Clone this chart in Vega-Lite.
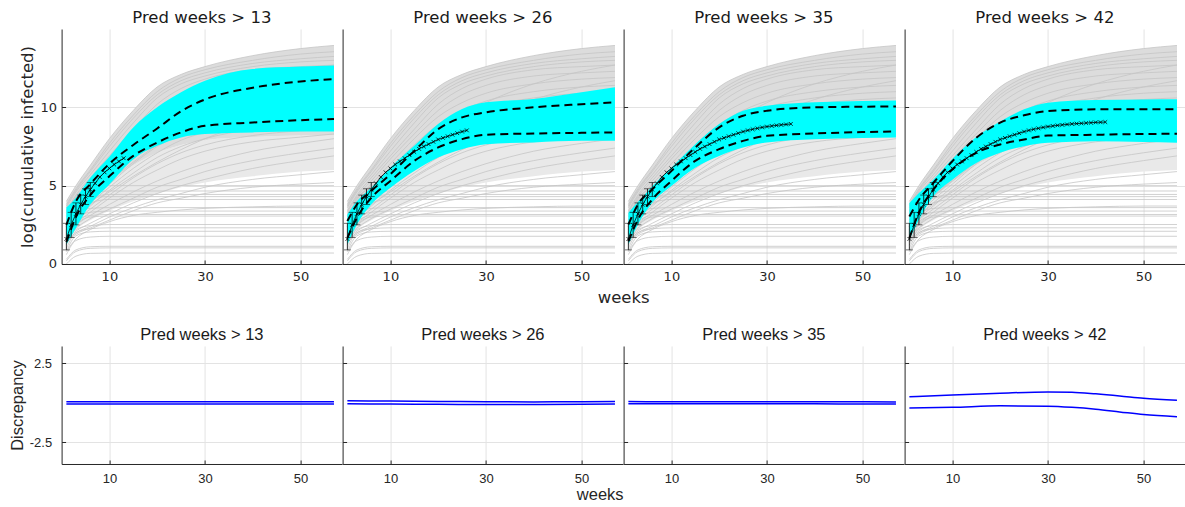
{
"$schema": "https://vega.github.io/schema/vega-lite/v6.json",
"padding": {"left": 9.6, "top": 10, "right": 0, "bottom": 0},
"background": "white",
"config": {
  "view": {"stroke": null},
  "axis": {"domainColor": "#262626", "tickColor": "#262626", "labelColor": "#262626", "titleColor": "#262626", "gridColor": "#e3e3e3", "titleFontWeight": "normal", "domainWidth": 1, "tickWidth": 1, "labelFlush": false, "labelOverlap": false}
},
"datasets": {
  "env": [
    {"w":1,"v":2.6,"v2":4.0},{"w":3,"v":3.4,"v2":5.0},{"w":6,"v":4.2,"v2":6.3},{"w":10,"v":5.2,"v2":8.0},{"w":15,"v":6.3,"v2":9.8},{"w":20,"v":7.1,"v2":11.3},{"w":25,"v":7.6,"v2":12.1},{"w":30,"v":7.9,"v2":12.6},{"w":40,"v":8.1,"v2":13.3},{"w":50,"v":8.2,"v2":13.75},{"w":57,"v":8.2,"v2":13.95}
  ],
  "mid": [
    {"w":1,"v":1.5,"v2":2.6},{"w":3,"v":2.2,"v2":3.4},{"w":6,"v":2.8,"v2":4.2},{"w":10,"v":3.4,"v2":5.2},{"w":15,"v":4.0,"v2":6.3},{"w":20,"v":4.5,"v2":7.1},{"w":25,"v":4.9,"v2":7.6},{"w":30,"v":5.2,"v2":7.9},{"w":40,"v":5.6,"v2":8.1},{"w":50,"v":5.9,"v2":8.2},{"w":57,"v":6.0,"v2":8.2}
  ],
  "gray": [
    {"g":1,"w":1,"v":4.0},{"g":1,"w":3,"v":5.0},{"g":1,"w":6,"v":6.3},{"g":1,"w":10,"v":8.0},{"g":1,"w":15,"v":9.8},{"g":1,"w":20,"v":11.3},{"g":1,"w":25,"v":12.1},{"g":1,"w":30,"v":12.6},{"g":1,"w":40,"v":13.3},{"g":1,"w":50,"v":13.75},{"g":1,"w":57,"v":13.95},
    {"g":2,"w":1,"v":3.8},{"g":2,"w":3,"v":4.8},{"g":2,"w":6,"v":6.0},{"g":2,"w":10,"v":7.7},{"g":2,"w":15,"v":9.5},{"g":2,"w":20,"v":11.0},{"g":2,"w":25,"v":11.9},{"g":2,"w":30,"v":12.4},{"g":2,"w":40,"v":13.0},{"g":2,"w":50,"v":13.4},{"g":2,"w":57,"v":13.55},
    {"g":3,"w":1,"v":3.7},{"g":3,"w":3,"v":4.7},{"g":3,"w":6,"v":5.9},{"g":3,"w":10,"v":7.5},{"g":3,"w":15,"v":9.3},{"g":3,"w":20,"v":10.8},{"g":3,"w":25,"v":11.7},{"g":3,"w":30,"v":12.2},{"g":3,"w":40,"v":12.8},{"g":3,"w":50,"v":13.1},{"g":3,"w":57,"v":13.25},
    {"g":4,"w":1,"v":3.6},{"g":4,"w":3,"v":4.6},{"g":4,"w":6,"v":5.7},{"g":4,"w":10,"v":7.2},{"g":4,"w":15,"v":9.0},{"g":4,"w":20,"v":10.6},{"g":4,"w":25,"v":11.5},{"g":4,"w":30,"v":12.0},{"g":4,"w":40,"v":12.6},{"g":4,"w":50,"v":12.9},{"g":4,"w":57,"v":13.0},
    {"g":5,"w":1,"v":3.4},{"g":5,"w":3,"v":4.4},{"g":5,"w":6,"v":5.5},{"g":5,"w":10,"v":6.9},{"g":5,"w":15,"v":8.6},{"g":5,"w":20,"v":10.2},{"g":5,"w":25,"v":11.2},{"g":5,"w":30,"v":11.8},{"g":5,"w":40,"v":12.4},{"g":5,"w":50,"v":12.6},{"g":5,"w":57,"v":12.7},
    {"g":6,"w":1,"v":3.3},{"g":6,"w":3,"v":4.3},{"g":6,"w":6,"v":5.3},{"g":6,"w":10,"v":6.7},{"g":6,"w":15,"v":8.3},{"g":6,"w":20,"v":9.8},{"g":6,"w":25,"v":10.8},{"g":6,"w":30,"v":11.4},{"g":6,"w":40,"v":12.0},{"g":6,"w":50,"v":12.2},{"g":6,"w":57,"v":12.3},
    {"g":7,"w":1,"v":3.1},{"g":7,"w":3,"v":4.1},{"g":7,"w":6,"v":5.1},{"g":7,"w":10,"v":6.4},{"g":7,"w":15,"v":8.0},{"g":7,"w":20,"v":9.4},{"g":7,"w":25,"v":10.3},{"g":7,"w":30,"v":10.9},{"g":7,"w":40,"v":11.5},{"g":7,"w":50,"v":11.8},{"g":7,"w":57,"v":11.9},
    {"g":8,"w":1,"v":3.0},{"g":8,"w":3,"v":3.9},{"g":8,"w":6,"v":4.9},{"g":8,"w":10,"v":6.1},{"g":8,"w":15,"v":7.6},{"g":8,"w":20,"v":8.9},{"g":8,"w":25,"v":9.8},{"g":8,"w":30,"v":10.4},{"g":8,"w":40,"v":11.0},{"g":8,"w":50,"v":11.3},{"g":8,"w":57,"v":11.4},
    {"g":9,"w":1,"v":2.8},{"g":9,"w":3,"v":3.7},{"g":9,"w":6,"v":4.7},{"g":9,"w":10,"v":5.9},{"g":9,"w":15,"v":7.3},{"g":9,"w":20,"v":8.5},{"g":9,"w":25,"v":9.4},{"g":9,"w":30,"v":10.0},{"g":9,"w":40,"v":10.6},{"g":9,"w":50,"v":10.9},{"g":9,"w":57,"v":11.0},
    {"g":10,"w":1,"v":2.7},{"g":10,"w":3,"v":3.6},{"g":10,"w":6,"v":4.5},{"g":10,"w":10,"v":5.6},{"g":10,"w":15,"v":7.0},{"g":10,"w":20,"v":8.1},{"g":10,"w":25,"v":9.0},{"g":10,"w":30,"v":9.6},{"g":10,"w":40,"v":10.2},{"g":10,"w":50,"v":10.5},{"g":10,"w":57,"v":10.6},
    {"g":11,"w":1,"v":2.5},{"g":11,"w":3,"v":3.4},{"g":11,"w":6,"v":4.3},{"g":11,"w":10,"v":5.4},{"g":11,"w":15,"v":6.7},{"g":11,"w":20,"v":7.8},{"g":11,"w":25,"v":8.6},{"g":11,"w":30,"v":9.2},{"g":11,"w":40,"v":9.8},{"g":11,"w":50,"v":10.1},{"g":11,"w":57,"v":10.2},
    {"g":12,"w":1,"v":2.4},{"g":12,"w":3,"v":3.2},{"g":12,"w":6,"v":4.1},{"g":12,"w":10,"v":5.1},{"g":12,"w":15,"v":6.4},{"g":12,"w":20,"v":7.5},{"g":12,"w":25,"v":8.3},{"g":12,"w":30,"v":8.8},{"g":12,"w":40,"v":9.4},{"g":12,"w":50,"v":9.7},{"g":12,"w":57,"v":9.8},
    {"g":13,"w":1,"v":2.3},{"g":13,"w":3,"v":3.1},{"g":13,"w":6,"v":3.9},{"g":13,"w":10,"v":4.9},{"g":13,"w":15,"v":6.1},{"g":13,"w":20,"v":7.1},{"g":13,"w":25,"v":7.9},{"g":13,"w":30,"v":8.4},{"g":13,"w":40,"v":9.0},{"g":13,"w":50,"v":9.3},{"g":13,"w":57,"v":9.4},
    {"g":14,"w":1,"v":2.2},{"g":14,"w":3,"v":2.9},{"g":14,"w":6,"v":3.7},{"g":14,"w":10,"v":4.7},{"g":14,"w":15,"v":5.8},{"g":14,"w":20,"v":6.8},{"g":14,"w":25,"v":7.5},{"g":14,"w":30,"v":8.0},{"g":14,"w":40,"v":8.6},{"g":14,"w":50,"v":8.9},{"g":14,"w":57,"v":9.0},
    {"g":15,"w":1,"v":2.1},{"g":15,"w":3,"v":2.8},{"g":15,"w":6,"v":3.5},{"g":15,"w":10,"v":4.4},{"g":15,"w":15,"v":5.5},{"g":15,"w":20,"v":6.4},{"g":15,"w":25,"v":7.1},{"g":15,"w":30,"v":7.6},{"g":15,"w":40,"v":8.2},{"g":15,"w":50,"v":8.5},{"g":15,"w":57,"v":8.6},
    {"g":16,"w":1,"v":2.0},{"g":16,"w":3,"v":2.6},{"g":16,"w":6,"v":3.3},{"g":16,"w":10,"v":4.2},{"g":16,"w":15,"v":5.2},{"g":16,"w":20,"v":6.0},{"g":16,"w":25,"v":6.7},{"g":16,"w":30,"v":7.2},{"g":16,"w":40,"v":7.8},{"g":16,"w":50,"v":8.1},{"g":16,"w":57,"v":8.3},
    {"g":17,"w":1,"v":3.2},{"g":17,"w":3,"v":4.0},{"g":17,"w":6,"v":4.9},{"g":17,"w":10,"v":6.0},{"g":17,"w":15,"v":7.3},{"g":17,"w":20,"v":8.5},{"g":17,"w":25,"v":9.5},{"g":17,"w":30,"v":10.3},{"g":17,"w":40,"v":11.5},{"g":17,"w":50,"v":12.3},{"g":17,"w":57,"v":12.7},
    {"g":18,"w":1,"v":2.8},{"g":18,"w":3,"v":3.5},{"g":18,"w":6,"v":4.3},{"g":18,"w":10,"v":5.3},{"g":18,"w":15,"v":6.5},{"g":18,"w":20,"v":7.6},{"g":18,"w":25,"v":8.5},{"g":18,"w":30,"v":9.3},{"g":18,"w":40,"v":10.5},{"g":18,"w":50,"v":11.3},{"g":18,"w":57,"v":11.7},
    {"g":19,"w":1,"v":2.4},{"g":19,"w":3,"v":3.1},{"g":19,"w":6,"v":3.8},{"g":19,"w":10,"v":4.6},{"g":19,"w":15,"v":5.6},{"g":19,"w":20,"v":6.5},{"g":19,"w":25,"v":7.3},{"g":19,"w":30,"v":8.0},{"g":19,"w":40,"v":9.0},{"g":19,"w":50,"v":9.7},{"g":19,"w":57,"v":10.1},
    {"g":20,"w":1,"v":2.0},{"g":20,"w":3,"v":2.5},{"g":20,"w":6,"v":3.1},{"g":20,"w":10,"v":3.8},{"g":20,"w":15,"v":4.6},{"g":20,"w":20,"v":5.3},{"g":20,"w":25,"v":5.9},{"g":20,"w":30,"v":6.4},{"g":20,"w":40,"v":7.2},{"g":20,"w":50,"v":7.7},{"g":20,"w":57,"v":8.0},
    {"g":21,"w":1,"v":1.8},{"g":21,"w":3,"v":2.3},{"g":21,"w":6,"v":2.9},{"g":21,"w":10,"v":3.5},{"g":21,"w":15,"v":4.2},{"g":21,"w":20,"v":4.9},{"g":21,"w":25,"v":5.4},{"g":21,"w":30,"v":5.9},{"g":21,"w":40,"v":6.6},{"g":21,"w":50,"v":7.1},{"g":21,"w":57,"v":7.4},
    {"g":22,"w":1,"v":1.6},{"g":22,"w":3,"v":2.1},{"g":22,"w":6,"v":2.6},{"g":22,"w":10,"v":3.2},{"g":22,"w":15,"v":3.9},{"g":22,"w":20,"v":4.5},{"g":22,"w":25,"v":5.0},{"g":22,"w":30,"v":5.4},{"g":22,"w":40,"v":6.1},{"g":22,"w":50,"v":6.6},{"g":22,"w":57,"v":6.9},
    {"g":23,"w":1,"v":1.5},{"g":23,"w":3,"v":2.0},{"g":23,"w":6,"v":2.4},{"g":23,"w":10,"v":3.0},{"g":23,"w":15,"v":3.6},{"g":23,"w":20,"v":4.1},{"g":23,"w":25,"v":4.5},{"g":23,"w":30,"v":4.9},{"g":23,"w":40,"v":5.4},{"g":23,"w":50,"v":5.7},{"g":23,"w":57,"v":5.9},
    {"g":24,"w":1,"v":1.4},{"g":24,"w":3,"v":1.9},{"g":24,"w":6,"v":2.3},{"g":24,"w":10,"v":2.8},{"g":24,"w":15,"v":3.4},{"g":24,"w":20,"v":3.9},{"g":24,"w":25,"v":4.2},{"g":24,"w":30,"v":4.5},{"g":24,"w":40,"v":4.9},{"g":24,"w":50,"v":5.1},{"g":24,"w":57,"v":5.2},
    {"g":25,"w":1,"v":0.8},{"g":25,"w":3,"v":1.6},{"g":25,"w":6,"v":2.2},{"g":25,"w":10,"v":2.7},{"g":25,"w":15,"v":3.1},{"g":25,"w":20,"v":3.3},{"g":25,"w":25,"v":3.45},{"g":25,"w":30,"v":3.55},{"g":25,"w":40,"v":3.65},{"g":25,"w":50,"v":3.7},{"g":25,"w":57,"v":3.7},
    {"g":26,"w":1,"v":2.6},{"g":26,"w":3,"v":4.2},{"g":26,"w":6,"v":4.8},{"g":26,"w":10,"v":5.0},{"g":26,"w":57,"v":5.0},
    {"g":27,"w":1,"v":2.4},{"g":27,"w":3,"v":3.9},{"g":27,"w":6,"v":4.5},{"g":27,"w":10,"v":4.66},{"g":27,"w":57,"v":4.66},
    {"g":28,"w":1,"v":2.3},{"g":28,"w":3,"v":3.7},{"g":28,"w":6,"v":4.25},{"g":28,"w":10,"v":4.3},{"g":28,"w":57,"v":4.3},
    {"g":29,"w":1,"v":2.2},{"g":29,"w":3,"v":3.6},{"g":29,"w":6,"v":4.2},{"g":29,"w":10,"v":4.44},{"g":29,"w":57,"v":4.44},
    {"g":30,"w":1,"v":2.0},{"g":30,"w":3,"v":3.3},{"g":30,"w":6,"v":3.9},{"g":30,"w":10,"v":4.12},{"g":30,"w":57,"v":4.12},
    {"g":31,"w":1,"v":1.9},{"g":31,"w":3,"v":3.2},{"g":31,"w":6,"v":3.55},{"g":31,"w":10,"v":3.6},{"g":31,"w":57,"v":3.6},
    {"g":32,"w":1,"v":1.8},{"g":32,"w":3,"v":2.9},{"g":32,"w":6,"v":3.3},{"g":32,"w":10,"v":3.38},{"g":32,"w":57,"v":3.38},
    {"g":33,"w":1,"v":1.6},{"g":33,"w":3,"v":2.7},{"g":33,"w":6,"v":3.1},{"g":33,"w":10,"v":3.16},{"g":33,"w":57,"v":3.16},
    {"g":34,"w":1,"v":1.4},{"g":34,"w":3,"v":2.5},{"g":34,"w":6,"v":3.0},{"g":34,"w":10,"v":3.06},{"g":34,"w":57,"v":3.06},
    {"g":35,"w":1,"v":1.2},{"g":35,"w":3,"v":2.2},{"g":35,"w":6,"v":2.45},{"g":35,"w":10,"v":2.52},{"g":35,"w":57,"v":2.52},
    {"g":36,"w":1,"v":1.0},{"g":36,"w":3,"v":2.0},{"g":36,"w":6,"v":2.25},{"g":36,"w":10,"v":2.31},{"g":36,"w":57,"v":2.31},
    {"g":37,"w":1,"v":0.8},{"g":37,"w":3,"v":1.8},{"g":37,"w":6,"v":2.05},{"g":37,"w":10,"v":2.09},{"g":37,"w":57,"v":2.09},
    {"g":38,"w":1,"v":0.6},{"g":38,"w":3,"v":1.5},{"g":38,"w":6,"v":1.72},{"g":38,"w":10,"v":1.77},{"g":38,"w":57,"v":1.77},
    {"g":39,"w":1,"v":0.3},{"g":39,"w":3,"v":0.9},{"g":39,"w":6,"v":1.1},{"g":39,"w":10,"v":1.13},{"g":39,"w":57,"v":1.13},
    {"g":40,"w":1,"v":0.2},{"g":40,"w":3,"v":0.8},{"g":40,"w":6,"v":1.0},{"g":40,"w":10,"v":1.03},{"g":40,"w":57,"v":1.03},
    {"g":41,"w":1,"v":0.0},{"g":41,"w":3,"v":0.5},{"g":41,"w":6,"v":0.68},{"g":41,"w":10,"v":0.7},{"g":41,"w":57,"v":0.7}
  ],
  "band": [
    {"p":13,"w":1,"v":1.24,"v2":3.6},{"p":13,"w":3,"v":2.3,"v2":4.23},{"p":13,"w":6,"v":3.8,"v2":5.5},{"p":13,"w":10,"v":5.08,"v2":6.85},{"p":13,"w":15,"v":6.69,"v2":8.72},{"p":13,"w":20,"v":7.54,"v2":10.0},{"p":13,"w":25,"v":8.08,"v2":10.96},{"p":13,"w":30,"v":8.29,"v2":11.7},{"p":13,"w":40,"v":8.4,"v2":12.45},{"p":13,"w":50,"v":8.45,"v2":12.6},{"p":13,"w":57,"v":8.46,"v2":12.67},
    {"p":26,"w":1,"v":1.24,"v2":3.16},{"p":26,"w":3,"v":2.52,"v2":4.0},{"p":26,"w":6,"v":3.8,"v2":4.87},{"p":26,"w":10,"v":4.87,"v2":6.15},{"p":26,"w":15,"v":5.94,"v2":7.54},{"p":26,"w":20,"v":6.8,"v2":8.93},{"p":26,"w":25,"v":7.33,"v2":9.89},{"p":26,"w":30,"v":7.65,"v2":10.32},{"p":26,"w":40,"v":7.76,"v2":10.53},{"p":26,"w":50,"v":7.86,"v2":10.96},{"p":26,"w":57,"v":7.86,"v2":11.28},
    {"p":35,"w":1,"v":1.24,"v2":3.27},{"p":35,"w":3,"v":2.52,"v2":3.95},{"p":35,"w":6,"v":3.91,"v2":4.97},{"p":35,"w":10,"v":4.98,"v2":6.15},{"p":35,"w":15,"v":6.15,"v2":7.65},{"p":35,"w":20,"v":6.9,"v2":8.93},{"p":35,"w":25,"v":7.44,"v2":9.78},{"p":35,"w":30,"v":7.76,"v2":10.1},{"p":35,"w":40,"v":7.97,"v2":10.32},{"p":35,"w":50,"v":8.05,"v2":10.4},{"p":35,"w":57,"v":8.08,"v2":10.43},
    {"p":42,"w":1,"v":1.54,"v2":3.89},{"p":42,"w":3,"v":2.82,"v2":4.53},{"p":42,"w":6,"v":4.31,"v2":5.38},{"p":42,"w":10,"v":5.38,"v2":6.7},{"p":42,"w":15,"v":6.45,"v2":8.1},{"p":42,"w":20,"v":7.1,"v2":9.1},{"p":42,"w":25,"v":7.52,"v2":9.87},{"p":42,"w":30,"v":7.74,"v2":10.3},{"p":42,"w":40,"v":7.84,"v2":10.47},{"p":42,"w":50,"v":7.78,"v2":10.5},{"p":42,"w":57,"v":7.74,"v2":10.51}
  ],
  "dash": [
    {"p":13,"q":"u","w":1,"v":2.5},{"p":13,"q":"u","w":3,"v":4.0},{"p":13,"q":"u","w":6,"v":5.1},{"p":13,"q":"u","w":10,"v":6.4},{"p":13,"q":"u","w":15,"v":7.6},{"p":13,"q":"u","w":20,"v":8.65},{"p":13,"q":"u","w":25,"v":9.75},{"p":13,"q":"u","w":30,"v":10.5},{"p":13,"q":"u","w":40,"v":11.25},{"p":13,"q":"u","w":50,"v":11.65},{"p":13,"q":"u","w":57,"v":11.8},
    {"p":13,"q":"l","w":1,"v":1.4},{"p":13,"q":"l","w":3,"v":3.0},{"p":13,"q":"l","w":6,"v":4.4},{"p":13,"q":"l","w":10,"v":5.6},{"p":13,"q":"l","w":15,"v":6.9},{"p":13,"q":"l","w":20,"v":7.75},{"p":13,"q":"l","w":25,"v":8.4},{"p":13,"q":"l","w":30,"v":8.82},{"p":13,"q":"l","w":40,"v":9.03},{"p":13,"q":"l","w":50,"v":9.18},{"p":13,"q":"l","w":57,"v":9.25},
    {"p":26,"q":"u","w":1,"v":2.74},{"p":26,"q":"u","w":3,"v":3.8},{"p":26,"q":"u","w":6,"v":4.66},{"p":26,"q":"u","w":10,"v":5.73},{"p":26,"q":"u","w":15,"v":7.22},{"p":26,"q":"u","w":20,"v":8.61},{"p":26,"q":"u","w":25,"v":9.36},{"p":26,"q":"u","w":30,"v":9.68},{"p":26,"q":"u","w":40,"v":10.0},{"p":26,"q":"u","w":50,"v":10.2},{"p":26,"q":"u","w":57,"v":10.32},
    {"p":26,"q":"l","w":1,"v":1.67},{"p":26,"q":"l","w":3,"v":2.95},{"p":26,"q":"l","w":6,"v":4.23},{"p":26,"q":"l","w":10,"v":5.3},{"p":26,"q":"l","w":15,"v":6.58},{"p":26,"q":"l","w":20,"v":7.44},{"p":26,"q":"l","w":25,"v":7.97},{"p":26,"q":"l","w":30,"v":8.25},{"p":26,"q":"l","w":40,"v":8.33},{"p":26,"q":"l","w":50,"v":8.37},{"p":26,"q":"l","w":57,"v":8.4},
    {"p":35,"q":"u","w":1,"v":2.52},{"p":35,"q":"u","w":3,"v":3.8},{"p":35,"q":"u","w":6,"v":4.77},{"p":35,"q":"u","w":10,"v":5.94},{"p":35,"q":"u","w":15,"v":7.44},{"p":35,"q":"u","w":20,"v":8.72},{"p":35,"q":"u","w":25,"v":9.46},{"p":35,"q":"u","w":30,"v":9.78},{"p":35,"q":"u","w":40,"v":10.0},{"p":35,"q":"u","w":50,"v":10.04},{"p":35,"q":"u","w":57,"v":10.06},
    {"p":35,"q":"l","w":1,"v":1.45},{"p":35,"q":"l","w":3,"v":2.84},{"p":35,"q":"l","w":6,"v":4.12},{"p":35,"q":"l","w":10,"v":5.3},{"p":35,"q":"l","w":15,"v":6.58},{"p":35,"q":"l","w":20,"v":7.33},{"p":35,"q":"l","w":25,"v":7.86},{"p":35,"q":"l","w":30,"v":8.18},{"p":35,"q":"l","w":40,"v":8.33},{"p":35,"q":"l","w":50,"v":8.42},{"p":35,"q":"l","w":57,"v":8.46},
    {"p":42,"q":"u","w":1,"v":3.03},{"p":42,"q":"u","w":3,"v":4.1},{"p":42,"q":"u","w":6,"v":5.17},{"p":42,"q":"u","w":10,"v":6.56},{"p":42,"q":"u","w":15,"v":8.06},{"p":42,"q":"u","w":20,"v":9.02},{"p":42,"q":"u","w":25,"v":9.49},{"p":42,"q":"u","w":30,"v":9.76},{"p":42,"q":"u","w":40,"v":9.87},{"p":42,"q":"u","w":50,"v":9.87},{"p":42,"q":"u","w":57,"v":9.87},
    {"p":42,"q":"l","w":1,"v":1.65},{"p":42,"q":"l","w":3,"v":3.3},{"p":42,"q":"l","w":6,"v":4.74},{"p":42,"q":"l","w":10,"v":6.03},{"p":42,"q":"l","w":15,"v":7.1},{"p":42,"q":"l","w":20,"v":7.63},{"p":42,"q":"l","w":25,"v":7.95},{"p":42,"q":"l","w":30,"v":8.2},{"p":42,"q":"l","w":40,"v":8.25},{"p":42,"q":"l","w":50,"v":8.3},{"p":42,"q":"l","w":57,"v":8.31}
  ],
  "obs": [
    {"w":1,"v":1.6},{"w":2,"v":2.5},{"w":3,"v":3.2},{"w":4,"v":3.8},{"w":5,"v":4.3},{"w":6,"v":4.75},{"w":7,"v":5.15},{"w":8,"v":5.55},{"w":9,"v":5.85},{"w":10,"v":6.1},
    {"w":11,"v":6.35},{"w":12,"v":6.55},{"w":13,"v":6.75},{"w":14,"v":6.95},{"w":15,"v":7.15},{"w":16,"v":7.35},{"w":17,"v":7.5},{"w":18,"v":7.65},{"w":19,"v":7.8},{"w":20,"v":7.95},
    {"w":21,"v":8.05},{"w":22,"v":8.15},{"w":23,"v":8.25},{"w":24,"v":8.35},{"w":25,"v":8.45},{"w":26,"v":8.53},{"w":27,"v":8.6},{"w":28,"v":8.66},{"w":29,"v":8.72},{"w":30,"v":8.77},
    {"w":31,"v":8.81},{"w":32,"v":8.85},{"w":33,"v":8.88},{"w":34,"v":8.91},{"w":35,"v":8.94},{"w":36,"v":8.96},{"w":37,"v":8.98},{"w":38,"v":9.0},{"w":39,"v":9.02},{"w":40,"v":9.04},{"w":41,"v":9.05},{"w":42,"v":9.06}
  ],
  "err": [
    {"w":1,"v":0.9,"v2":2.6},{"w":2,"v":1.7,"v2":3.3},{"w":3,"v":2.5,"v2":3.9},{"w":4,"v":3.2,"v2":4.4},{"w":5,"v":3.8,"v2":4.8},{"w":6,"v":4.3,"v2":5.2}
  ],
  "caps": [
    {"w":1,"v":0.9},{"w":1,"v":2.6},{"w":2,"v":1.7},{"w":2,"v":3.3},{"w":3,"v":2.5},{"w":3,"v":3.9},{"w":4,"v":3.2},{"w":4,"v":4.4},{"w":5,"v":3.8},{"w":5,"v":4.8},{"w":6,"v":4.3},{"w":6,"v":5.2}
  ],
  "disc": [
    {"p":13,"s":"u","w":1,"v":0.06},{"p":13,"s":"u","w":10,"v":0.06},{"p":13,"s":"u","w":20,"v":0.06},{"p":13,"s":"u","w":30,"v":0.06},{"p":13,"s":"u","w":40,"v":0.06},{"p":13,"s":"u","w":50,"v":0.06},{"p":13,"s":"u","w":57,"v":0.06},
    {"p":13,"s":"l","w":1,"v":-0.08},{"p":13,"s":"l","w":10,"v":-0.08},{"p":13,"s":"l","w":20,"v":-0.08},{"p":13,"s":"l","w":30,"v":-0.08},{"p":13,"s":"l","w":40,"v":-0.08},{"p":13,"s":"l","w":50,"v":-0.08},{"p":13,"s":"l","w":57,"v":-0.08},
    {"p":26,"s":"u","w":1,"v":0.12},{"p":26,"s":"u","w":10,"v":0.1},{"p":26,"s":"u","w":20,"v":0.08},{"p":26,"s":"u","w":30,"v":0.06},{"p":26,"s":"u","w":40,"v":0.05},{"p":26,"s":"u","w":50,"v":0.06},{"p":26,"s":"u","w":57,"v":0.07},
    {"p":26,"s":"l","w":1,"v":-0.07},{"p":26,"s":"l","w":10,"v":-0.08},{"p":26,"s":"l","w":20,"v":-0.1},{"p":26,"s":"l","w":30,"v":-0.11},{"p":26,"s":"l","w":40,"v":-0.11},{"p":26,"s":"l","w":50,"v":-0.09},{"p":26,"s":"l","w":57,"v":-0.08},
    {"p":35,"s":"u","w":1,"v":0.07},{"p":35,"s":"u","w":10,"v":0.06},{"p":35,"s":"u","w":20,"v":0.06},{"p":35,"s":"u","w":30,"v":0.06},{"p":35,"s":"u","w":40,"v":0.06},{"p":35,"s":"u","w":50,"v":0.06},{"p":35,"s":"u","w":57,"v":0.05},
    {"p":35,"s":"l","w":1,"v":-0.07},{"p":35,"s":"l","w":10,"v":-0.07},{"p":35,"s":"l","w":20,"v":-0.07},{"p":35,"s":"l","w":30,"v":-0.07},{"p":35,"s":"l","w":40,"v":-0.07},{"p":35,"s":"l","w":50,"v":-0.08},{"p":35,"s":"l","w":57,"v":-0.08},
    {"p":42,"s":"u","w":1,"v":0.37},{"p":42,"s":"u","w":10,"v":0.49},{"p":42,"s":"u","w":20,"v":0.6},{"p":42,"s":"u","w":30,"v":0.68},{"p":42,"s":"u","w":35,"v":0.66},{"p":42,"s":"u","w":40,"v":0.56},{"p":42,"s":"u","w":45,"v":0.43},{"p":42,"s":"u","w":50,"v":0.28},{"p":42,"s":"u","w":57,"v":0.16},
    {"p":42,"s":"l","w":1,"v":-0.33},{"p":42,"s":"l","w":10,"v":-0.29},{"p":42,"s":"l","w":20,"v":-0.2},{"p":42,"s":"l","w":30,"v":-0.22},{"p":42,"s":"l","w":35,"v":-0.29},{"p":42,"s":"l","w":40,"v":-0.41},{"p":42,"s":"l","w":45,"v":-0.58},{"p":42,"s":"l","w":50,"v":-0.75},{"p":42,"s":"l","w":57,"v":-0.88}
  ]
},
"columns": 4,
"spacing": {"row": 82, "column": 0},
"bounds": "flush",
"concat": [
  {
    "width": 280.5, "height": 235,
    "title": {"text": "Pred weeks > 13", "font": "DejaVu Sans", "fontSize": 16.5, "fontWeight": "normal", "color": "#1a1a1a", "baseline": "alphabetic", "offset": -10.5, "frame": "group"},
    "encoding": {
      "x": {"field": "w", "type": "quantitative", "scale": {"domain": [0, 58.7], "nice": false, "zero": false}, "axis": {"values": [10, 30, 50], "grid": true, "tickSize": -4, "labelPadding": 10.5, "labelFont": "DejaVu Sans", "labelFontSize": 13, "title": null}},
      "y": {"field": "v", "type": "quantitative", "scale": {"domain": [0, 15], "nice": false, "zero": false}, "axis": {"values": [0, 5, 10], "grid": true, "tickSize": -4, "labelPadding": 9, "labelFont": "DejaVu Sans", "labelFontSize": 13, "title": "log(cumulative infected)", "titleFont": "DejaVu Sans", "titleFontSize": 16.5, "titlePadding": 4.5}}
    },
    "layer": [
      {"data": {"name": "mid"}, "mark": {"type": "area", "color": "#e9e9e9", "interpolate": "monotone"}, "encoding": {"y2": {"field": "v2"}}},
      {"data": {"name": "env"}, "mark": {"type": "area", "color": "#dcdcdc", "interpolate": "monotone"}, "encoding": {"y2": {"field": "v2"}}},
      {"data": {"name": "gray"}, "mark": {"type": "line", "color": "#c5c5c5", "strokeWidth": 0.8, "interpolate": "monotone"}, "encoding": {"detail": {"field": "g", "type": "nominal"}}},
      {"data": {"name": "band"}, "transform": [{"filter": "datum.p == 13"}], "mark": {"type": "area", "color": "#00ffff", "interpolate": "monotone"}, "encoding": {"y2": {"field": "v2"}}},
      {"data": {"name": "dash"}, "transform": [{"filter": "datum.p == 13"}], "mark": {"type": "line", "color": "black", "strokeWidth": 2, "strokeDash": [8, 5], "interpolate": "monotone"}, "encoding": {"detail": {"field": "q", "type": "nominal"}}},
      {"data": {"name": "obs"}, "transform": [{"filter": "datum.w <= 13"}], "mark": {"type": "line", "color": "black", "strokeWidth": 0.8}},
      {"data": {"name": "obs"}, "transform": [{"filter": "datum.w <= 13"}], "mark": {"type": "point", "shape": "M-1,-1L1,1M1,-1L-1,1", "size": 14, "filled": false, "color": "black", "strokeWidth": 0.8, "opacity": 1}},
      {"data": {"name": "err"}, "mark": {"type": "rule", "color": "black", "strokeWidth": 0.8}, "encoding": {"y2": {"field": "v2"}}},
      {"data": {"name": "caps"}, "mark": {"type": "tick", "orient": "horizontal", "color": "black", "size": 7, "thickness": 0.8}}
    ]
  },
  {
    "width": 280.5, "height": 235,
    "title": {"text": "Pred weeks > 26", "font": "DejaVu Sans", "fontSize": 16.5, "fontWeight": "normal", "color": "#1a1a1a", "baseline": "alphabetic", "offset": -10.5, "frame": "group"},
    "encoding": {
      "x": {"field": "w", "type": "quantitative", "scale": {"domain": [0, 58.7], "nice": false, "zero": false}, "axis": {"values": [10, 30, 50], "grid": true, "tickSize": -4, "labelPadding": 10.5, "labelFont": "DejaVu Sans", "labelFontSize": 13, "title": "weeks", "titleFont": "DejaVu Sans", "titleFontSize": 16.5, "titleAnchor": "end", "titleAlign": "center", "titlePadding": 6}},
      "y": {"field": "v", "type": "quantitative", "scale": {"domain": [0, 15], "nice": false, "zero": false}, "axis": {"values": [0, 5, 10], "grid": true, "tickSize": -4, "labels": false, "title": null}}
    },
    "layer": [
      {"data": {"name": "mid"}, "mark": {"type": "area", "color": "#e9e9e9", "interpolate": "monotone"}, "encoding": {"y2": {"field": "v2"}}},
      {"data": {"name": "env"}, "mark": {"type": "area", "color": "#dcdcdc", "interpolate": "monotone"}, "encoding": {"y2": {"field": "v2"}}},
      {"data": {"name": "gray"}, "mark": {"type": "line", "color": "#c5c5c5", "strokeWidth": 0.8, "interpolate": "monotone"}, "encoding": {"detail": {"field": "g", "type": "nominal"}}},
      {"data": {"name": "band"}, "transform": [{"filter": "datum.p == 26"}], "mark": {"type": "area", "color": "#00ffff", "interpolate": "monotone"}, "encoding": {"y2": {"field": "v2"}}},
      {"data": {"name": "dash"}, "transform": [{"filter": "datum.p == 26"}], "mark": {"type": "line", "color": "black", "strokeWidth": 2, "strokeDash": [8, 5], "interpolate": "monotone"}, "encoding": {"detail": {"field": "q", "type": "nominal"}}},
      {"data": {"name": "obs"}, "transform": [{"filter": "datum.w <= 26"}], "mark": {"type": "line", "color": "black", "strokeWidth": 0.8}},
      {"data": {"name": "obs"}, "transform": [{"filter": "datum.w <= 26"}], "mark": {"type": "point", "shape": "M-1,-1L1,1M1,-1L-1,1", "size": 14, "filled": false, "color": "black", "strokeWidth": 0.8, "opacity": 1}},
      {"data": {"name": "err"}, "mark": {"type": "rule", "color": "black", "strokeWidth": 0.8}, "encoding": {"y2": {"field": "v2"}}},
      {"data": {"name": "caps"}, "mark": {"type": "tick", "orient": "horizontal", "color": "black", "size": 7, "thickness": 0.8}}
    ]
  },
  {
    "width": 280.5, "height": 235,
    "title": {"text": "Pred weeks > 35", "font": "DejaVu Sans", "fontSize": 16.5, "fontWeight": "normal", "color": "#1a1a1a", "baseline": "alphabetic", "offset": -10.5, "frame": "group"},
    "encoding": {
      "x": {"field": "w", "type": "quantitative", "scale": {"domain": [0, 58.7], "nice": false, "zero": false}, "axis": {"values": [10, 30, 50], "grid": true, "tickSize": -4, "labelPadding": 10.5, "labelFont": "DejaVu Sans", "labelFontSize": 13, "title": null}},
      "y": {"field": "v", "type": "quantitative", "scale": {"domain": [0, 15], "nice": false, "zero": false}, "axis": {"values": [0, 5, 10], "grid": true, "tickSize": -4, "labels": false, "title": null}}
    },
    "layer": [
      {"data": {"name": "mid"}, "mark": {"type": "area", "color": "#e9e9e9", "interpolate": "monotone"}, "encoding": {"y2": {"field": "v2"}}},
      {"data": {"name": "env"}, "mark": {"type": "area", "color": "#dcdcdc", "interpolate": "monotone"}, "encoding": {"y2": {"field": "v2"}}},
      {"data": {"name": "gray"}, "mark": {"type": "line", "color": "#c5c5c5", "strokeWidth": 0.8, "interpolate": "monotone"}, "encoding": {"detail": {"field": "g", "type": "nominal"}}},
      {"data": {"name": "band"}, "transform": [{"filter": "datum.p == 35"}], "mark": {"type": "area", "color": "#00ffff", "interpolate": "monotone"}, "encoding": {"y2": {"field": "v2"}}},
      {"data": {"name": "dash"}, "transform": [{"filter": "datum.p == 35"}], "mark": {"type": "line", "color": "black", "strokeWidth": 2, "strokeDash": [8, 5], "interpolate": "monotone"}, "encoding": {"detail": {"field": "q", "type": "nominal"}}},
      {"data": {"name": "obs"}, "transform": [{"filter": "datum.w <= 35"}], "mark": {"type": "line", "color": "black", "strokeWidth": 0.8}},
      {"data": {"name": "obs"}, "transform": [{"filter": "datum.w <= 35"}], "mark": {"type": "point", "shape": "M-1,-1L1,1M1,-1L-1,1", "size": 14, "filled": false, "color": "black", "strokeWidth": 0.8, "opacity": 1}},
      {"data": {"name": "err"}, "mark": {"type": "rule", "color": "black", "strokeWidth": 0.8}, "encoding": {"y2": {"field": "v2"}}},
      {"data": {"name": "caps"}, "mark": {"type": "tick", "orient": "horizontal", "color": "black", "size": 7, "thickness": 0.8}}
    ]
  },
  {
    "width": 280.5, "height": 235,
    "title": {"text": "Pred weeks > 42", "font": "DejaVu Sans", "fontSize": 16.5, "fontWeight": "normal", "color": "#1a1a1a", "baseline": "alphabetic", "offset": -10.5, "frame": "group"},
    "encoding": {
      "x": {"field": "w", "type": "quantitative", "scale": {"domain": [0, 58.7], "nice": false, "zero": false}, "axis": {"values": [10, 30, 50], "grid": true, "tickSize": -4, "labelPadding": 10.5, "labelFont": "DejaVu Sans", "labelFontSize": 13, "title": null}},
      "y": {"field": "v", "type": "quantitative", "scale": {"domain": [0, 15], "nice": false, "zero": false}, "axis": {"values": [0, 5, 10], "grid": true, "tickSize": -4, "labels": false, "title": null}}
    },
    "layer": [
      {"data": {"name": "mid"}, "mark": {"type": "area", "color": "#e9e9e9", "interpolate": "monotone"}, "encoding": {"y2": {"field": "v2"}}},
      {"data": {"name": "env"}, "mark": {"type": "area", "color": "#dcdcdc", "interpolate": "monotone"}, "encoding": {"y2": {"field": "v2"}}},
      {"data": {"name": "gray"}, "mark": {"type": "line", "color": "#c5c5c5", "strokeWidth": 0.8, "interpolate": "monotone"}, "encoding": {"detail": {"field": "g", "type": "nominal"}}},
      {"data": {"name": "band"}, "transform": [{"filter": "datum.p == 42"}], "mark": {"type": "area", "color": "#00ffff", "interpolate": "monotone"}, "encoding": {"y2": {"field": "v2"}}},
      {"data": {"name": "dash"}, "transform": [{"filter": "datum.p == 42"}], "mark": {"type": "line", "color": "black", "strokeWidth": 2, "strokeDash": [8, 5], "interpolate": "monotone"}, "encoding": {"detail": {"field": "q", "type": "nominal"}}},
      {"data": {"name": "obs"}, "transform": [{"filter": "datum.w <= 42"}], "mark": {"type": "line", "color": "black", "strokeWidth": 0.8}},
      {"data": {"name": "obs"}, "transform": [{"filter": "datum.w <= 42"}], "mark": {"type": "point", "shape": "M-1,-1L1,1M1,-1L-1,1", "size": 14, "filled": false, "color": "black", "strokeWidth": 0.8, "opacity": 1}},
      {"data": {"name": "err"}, "mark": {"type": "rule", "color": "black", "strokeWidth": 0.8}, "encoding": {"y2": {"field": "v2"}}},
      {"data": {"name": "caps"}, "mark": {"type": "tick", "orient": "horizontal", "color": "black", "size": 7, "thickness": 0.8}}
    ]
  },
  {
    "width": 280.5, "height": 118,
    "title": {"text": "Pred weeks > 13", "font": "Liberation Sans", "fontSize": 16.5, "fontWeight": "normal", "color": "#1a1a1a", "baseline": "alphabetic", "offset": -11, "frame": "group"},
    "data": {"name": "disc"},
    "transform": [{"filter": "datum.p == 13"}],
    "mark": {"type": "line", "color": "#0000ff", "strokeWidth": 1.5, "interpolate": "monotone"},
    "encoding": {
      "x": {"field": "w", "type": "quantitative", "scale": {"domain": [0, 58.7], "nice": false, "zero": false}, "axis": {"values": [10, 30, 50], "grid": true, "tickSize": -4, "labelPadding": 13, "labelFont": "Liberation Sans", "labelFontSize": 13, "title": null}},
      "y": {"field": "v", "type": "quantitative", "scale": {"domain": [-3.87, 3.58], "nice": false, "zero": false}, "axis": {"values": [-2.5, 2.5], "grid": true, "tickSize": -4, "labelPadding": 14, "labelFont": "Liberation Sans", "labelFontSize": 13, "labelExpr": "datum.value < 0 ? '-2.5' : '2.5'", "title": "Discrepancy", "titleFont": "Liberation Sans", "titleFontSize": 16.5, "titlePadding": 3.5}},
      "detail": {"field": "s", "type": "nominal"}
    }
  },
  {
    "width": 280.5, "height": 118,
    "title": {"text": "Pred weeks > 26", "font": "Liberation Sans", "fontSize": 16.5, "fontWeight": "normal", "color": "#1a1a1a", "baseline": "alphabetic", "offset": -11, "frame": "group"},
    "data": {"name": "disc"},
    "transform": [{"filter": "datum.p == 26"}],
    "mark": {"type": "line", "color": "#0000ff", "strokeWidth": 1.5, "interpolate": "monotone"},
    "encoding": {
      "x": {"field": "w", "type": "quantitative", "scale": {"domain": [0, 58.7], "nice": false, "zero": false}, "axis": {"values": [10, 30, 50], "grid": true, "tickSize": -4, "labelPadding": 13, "labelFont": "Liberation Sans", "labelFontSize": 13, "title": "weeks", "titleFont": "Liberation Sans", "titleFontSize": 16.5, "titleAnchor": "end", "titleAlign": "right", "titlePadding": 1}},
      "y": {"field": "v", "type": "quantitative", "scale": {"domain": [-3.87, 3.58], "nice": false, "zero": false}, "axis": {"values": [-2.5, 2.5], "grid": true, "tickSize": -4, "labels": false, "title": null}},
      "detail": {"field": "s", "type": "nominal"}
    }
  },
  {
    "width": 280.5, "height": 118,
    "title": {"text": "Pred weeks > 35", "font": "Liberation Sans", "fontSize": 16.5, "fontWeight": "normal", "color": "#1a1a1a", "baseline": "alphabetic", "offset": -11, "frame": "group"},
    "data": {"name": "disc"},
    "transform": [{"filter": "datum.p == 35"}],
    "mark": {"type": "line", "color": "#0000ff", "strokeWidth": 1.5, "interpolate": "monotone"},
    "encoding": {
      "x": {"field": "w", "type": "quantitative", "scale": {"domain": [0, 58.7], "nice": false, "zero": false}, "axis": {"values": [10, 30, 50], "grid": true, "tickSize": -4, "labelPadding": 13, "labelFont": "Liberation Sans", "labelFontSize": 13, "title": null}},
      "y": {"field": "v", "type": "quantitative", "scale": {"domain": [-3.87, 3.58], "nice": false, "zero": false}, "axis": {"values": [-2.5, 2.5], "grid": true, "tickSize": -4, "labels": false, "title": null}},
      "detail": {"field": "s", "type": "nominal"}
    }
  },
  {
    "width": 280.5, "height": 118,
    "title": {"text": "Pred weeks > 42", "font": "Liberation Sans", "fontSize": 16.5, "fontWeight": "normal", "color": "#1a1a1a", "baseline": "alphabetic", "offset": -11, "frame": "group"},
    "data": {"name": "disc"},
    "transform": [{"filter": "datum.p == 42"}],
    "mark": {"type": "line", "color": "#0000ff", "strokeWidth": 1.5, "interpolate": "monotone"},
    "encoding": {
      "x": {"field": "w", "type": "quantitative", "scale": {"domain": [0, 58.7], "nice": false, "zero": false}, "axis": {"values": [10, 30, 50], "grid": true, "tickSize": -4, "labelPadding": 13, "labelFont": "Liberation Sans", "labelFontSize": 13, "title": null}},
      "y": {"field": "v", "type": "quantitative", "scale": {"domain": [-3.87, 3.58], "nice": false, "zero": false}, "axis": {"values": [-2.5, 2.5], "grid": true, "tickSize": -4, "labels": false, "title": null}},
      "detail": {"field": "s", "type": "nominal"}
    }
  }
]
}
